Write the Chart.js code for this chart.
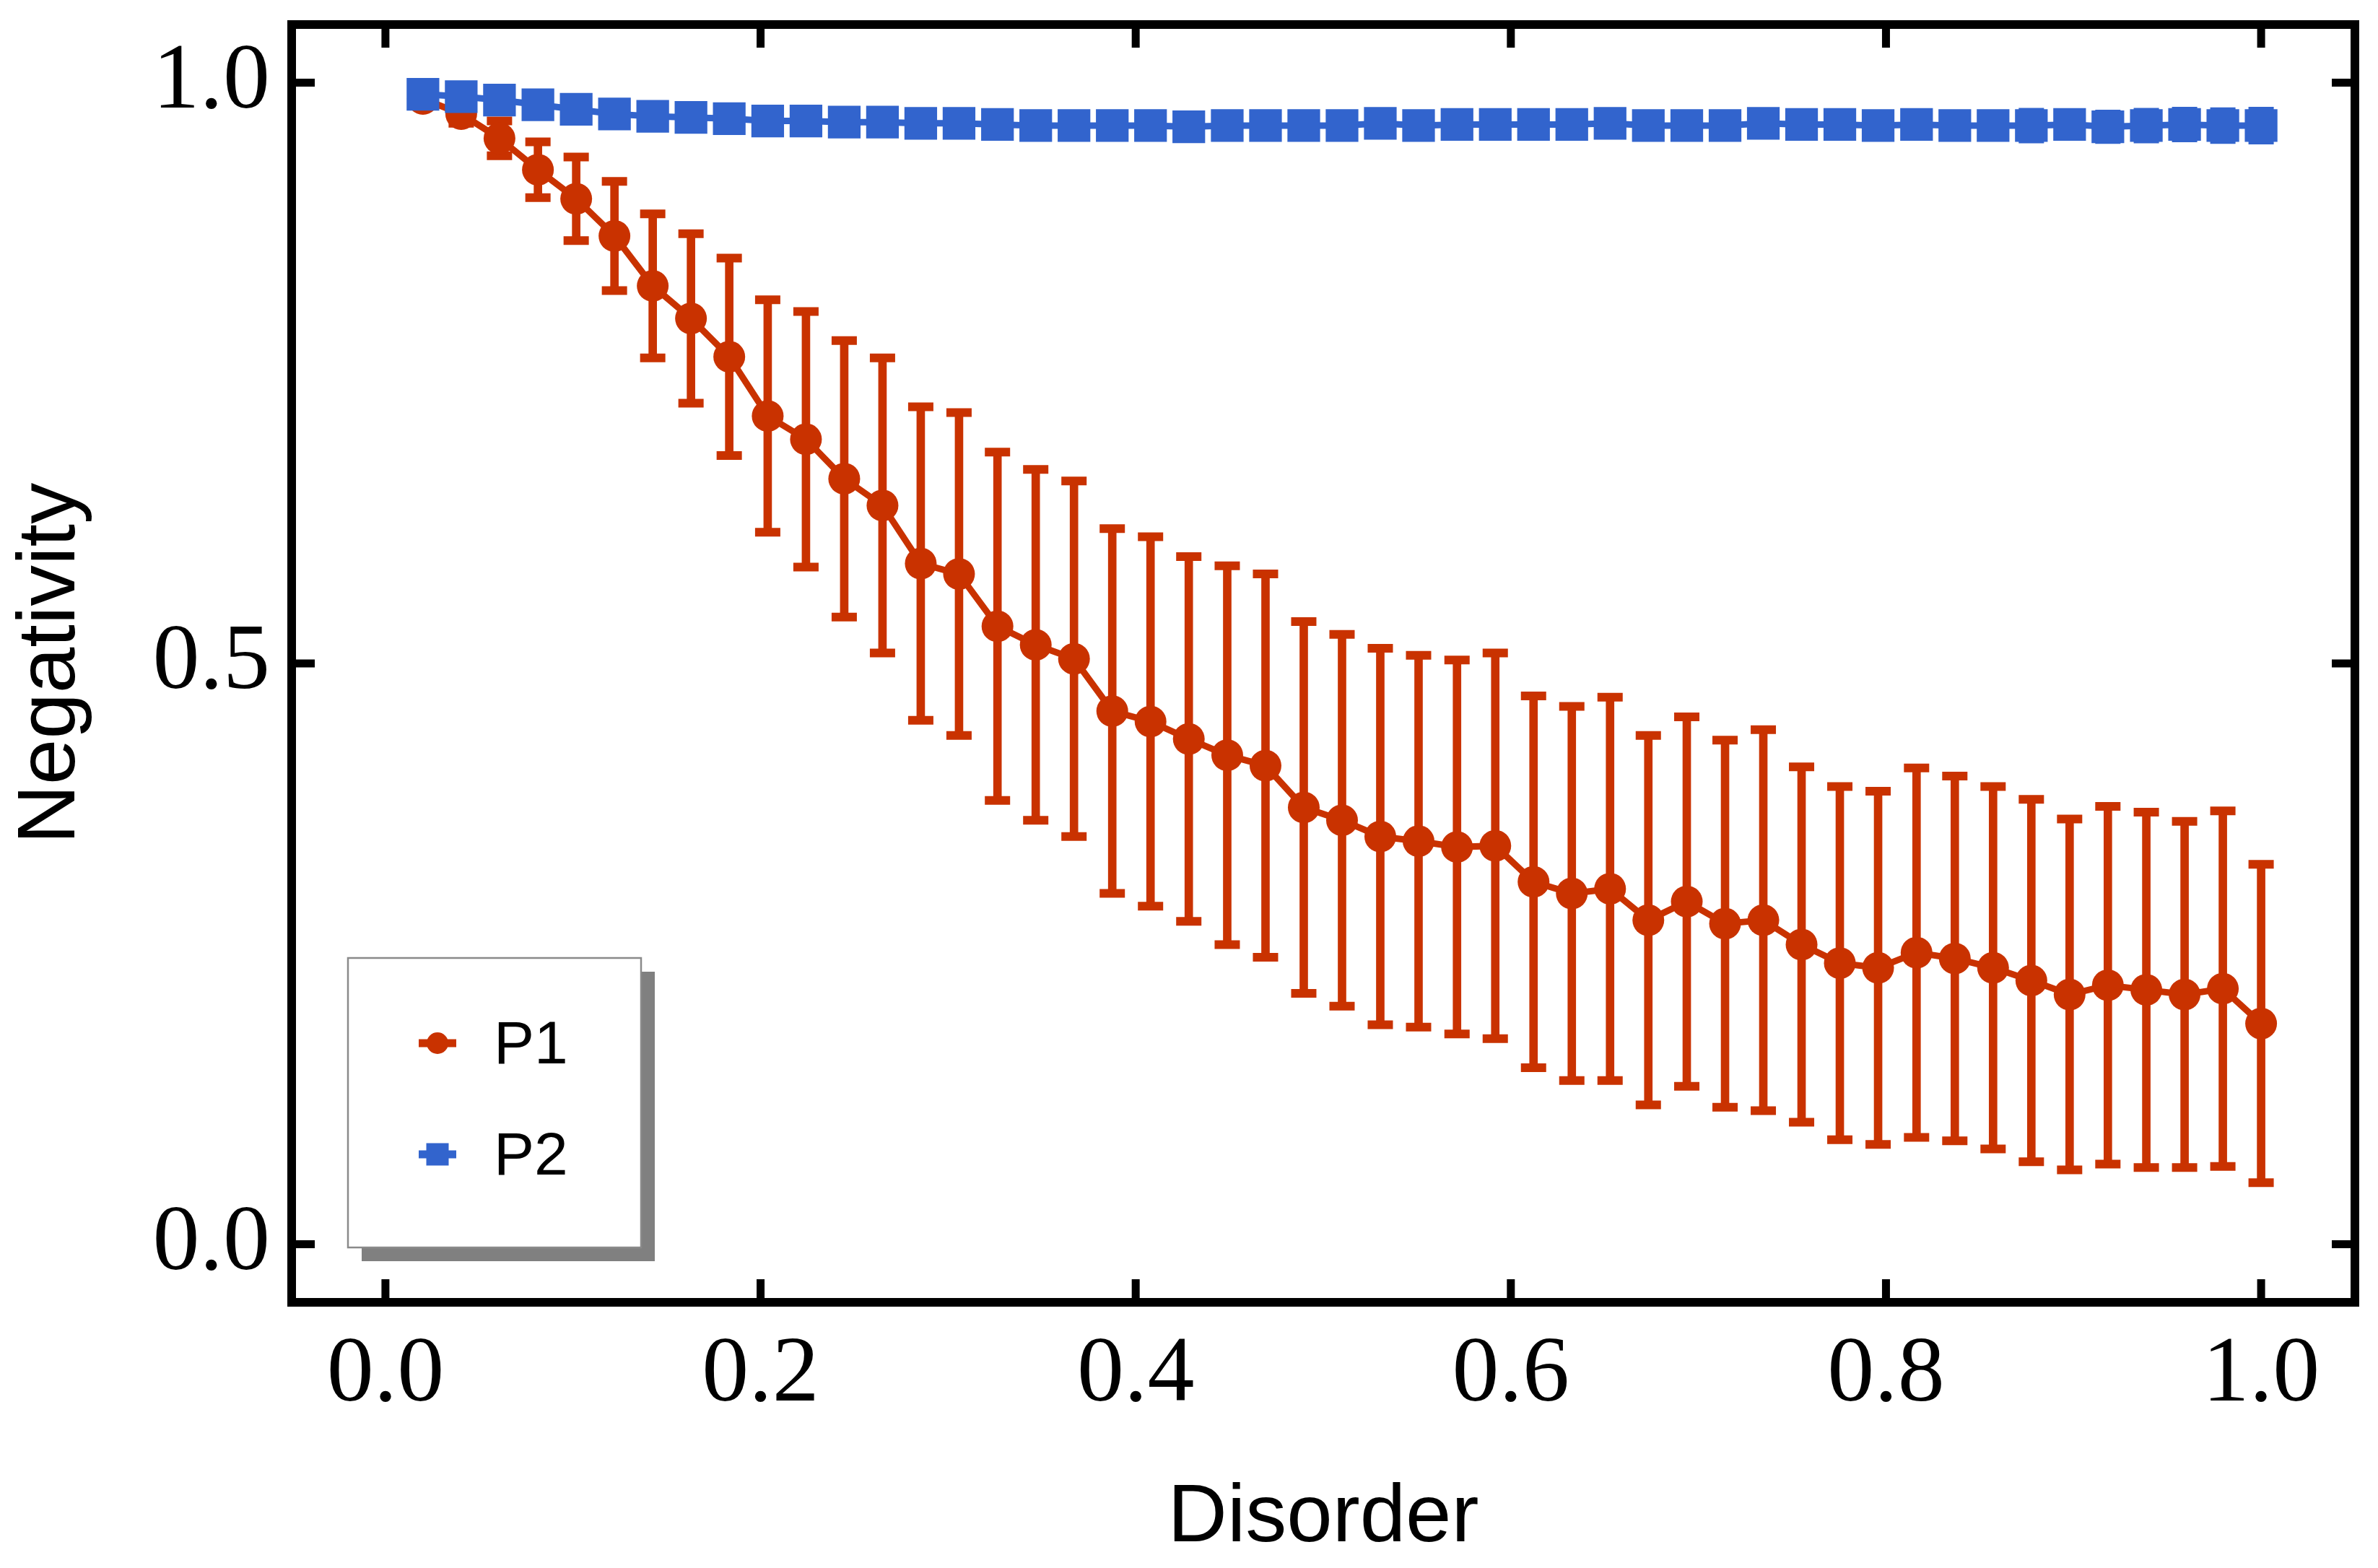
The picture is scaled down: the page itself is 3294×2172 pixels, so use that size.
<!DOCTYPE html>
<html>
<head>
<meta charset="utf-8">
<title>Negativity vs Disorder</title>
<script src="https://cdn.jsdelivr.net/npm/chart.js@4.4.1/dist/chart.umd.min.js"></script>
<style>
  html, body { margin: 0; padding: 0; background: #fff; }
  #wrap { width: 3294px; height: 2172px; }
</style>
</head>
<body>
<div id="wrap"><canvas id="negChart" width="3294" height="2172"></canvas></div>
<script>
// 49 disorder values, 0.02 .. 1.0
var disorder = [
  0.0200, 0.0404, 0.0608, 0.0813, 0.1017, 0.1221, 0.1425, 0.1629, 0.1833, 0.2038,
  0.2242, 0.2446, 0.2650, 0.2854, 0.3058, 0.3263, 0.3467, 0.3671, 0.3875, 0.4079,
  0.4283, 0.4488, 0.4692, 0.4896, 0.5100, 0.5304, 0.5508, 0.5713, 0.5917, 0.6121,
  0.6325, 0.6529, 0.6733, 0.6938, 0.7142, 0.7346, 0.7550, 0.7754, 0.7958, 0.8163,
  0.8367, 0.8571, 0.8775, 0.8979, 0.9183, 0.9388, 0.9592, 0.9796, 1.0000
];

var p1 = [
  0.986, 0.973, 0.952, 0.925, 0.900, 0.868, 0.825, 0.797, 0.764, 0.713,
  0.693, 0.659, 0.636, 0.586, 0.577, 0.532, 0.516, 0.504, 0.459, 0.450,
  0.435, 0.421, 0.412, 0.376, 0.365, 0.351, 0.347, 0.342, 0.343, 0.312,
  0.302, 0.306, 0.279, 0.295, 0.276, 0.279, 0.258, 0.242, 0.238, 0.251,
  0.246, 0.238, 0.227, 0.215, 0.223, 0.219, 0.215, 0.220, 0.190
];

var p1Err = [
  0.004, 0.008, 0.015, 0.024, 0.036, 0.047, 0.062, 0.073, 0.085, 0.100,
  0.110, 0.119, 0.127, 0.135, 0.139, 0.150, 0.151, 0.153, 0.157, 0.159,
  0.157, 0.163, 0.165, 0.160, 0.160, 0.162, 0.160, 0.161, 0.166, 0.160,
  0.161, 0.165, 0.159, 0.159, 0.158, 0.164, 0.153, 0.152, 0.152, 0.159,
  0.157, 0.156, 0.156, 0.151, 0.154, 0.153, 0.149, 0.153, 0.137
];

var p2 = [
  0.990, 0.988, 0.985, 0.981, 0.977, 0.973, 0.971, 0.970, 0.969, 0.967,
  0.967, 0.966, 0.966, 0.965, 0.965, 0.964, 0.963, 0.963, 0.963, 0.963,
  0.962, 0.963, 0.963, 0.963, 0.963, 0.965, 0.963, 0.964, 0.964, 0.964,
  0.964, 0.965, 0.963, 0.963, 0.963, 0.965, 0.964, 0.964, 0.963, 0.964,
  0.963, 0.963, 0.963, 0.964, 0.962, 0.963, 0.964, 0.963, 0.963
];

var p2Err = [
  0.002, 0.002, 0.003, 0.003, 0.004, 0.004, 0.005, 0.005, 0.005, 0.006,
  0.006, 0.006, 0.006, 0.007, 0.007, 0.007, 0.008, 0.007, 0.007, 0.007,
  0.008, 0.007, 0.007, 0.008, 0.007, 0.007, 0.008, 0.008, 0.008, 0.008,
  0.008, 0.008, 0.008, 0.008, 0.008, 0.008, 0.008, 0.008, 0.009, 0.008,
  0.009, 0.008, 0.0115, 0.009, 0.011, 0.0115, 0.0115, 0.012, 0.0124
];

var xTicks = [0.0, 0.2, 0.4, 0.6, 0.8, 1.0];
var yTicks = [0.0, 0.5, 1.0];
var seriesNames = ['P1', 'P2'];

var red = 'rgb(201, 50, 0)';
var blue = 'rgb(50, 100, 205)';

function toPoints(ys) {
  return disorder.map(function (x, i) { return { x: x, y: ys[i] }; });
}
function toBars(ys, errs) {
  return disorder.map(function (x, i) { return { x: x, y: [ys[i] - errs[i], ys[i] + errs[i]] }; });
}
function toCaps(ys, errs, sign) {
  return disorder.map(function (x, i) { return { x: x, y: ys[i] + sign * errs[i] }; });
}

function capSet(ys, errs, sign, color, order) {
  return {
    type: 'line',
    data: toCaps(ys, errs, sign),
    showLine: false,
    pointStyle: 'line',
    pointRadius: 17.5,
    pointBorderWidth: 12,
    pointBorderColor: color,
    pointBackgroundColor: color,
    order: order
  };
}

function barSet(ys, errs, color, order) {
  return {
    type: 'bar',
    data: toBars(ys, errs),
    backgroundColor: color,
    borderWidth: 0,
    barThickness: 11,
    grouped: false,
    order: order
  };
}

// box frame with inward ticks on all four sides
var frameTicks = {
  id: 'frameTicks',
  afterDraw: function (chart) {
    var ctx = chart.ctx;
    var a = chart.chartArea;
    var sx = chart.scales.x, sy = chart.scales.y;
    var len = 32;
    ctx.save();
    ctx.strokeStyle = '#000';
    ctx.lineWidth = 12;
    ctx.strokeRect(a.left, a.top, a.right - a.left, a.bottom - a.top);
    ctx.lineWidth = 11;
    ctx.beginPath();
    sx.ticks.forEach(function (t) {
      var px = sx.getPixelForValue(t.value);
      ctx.moveTo(px, a.bottom); ctx.lineTo(px, a.bottom - len);
      ctx.moveTo(px, a.top); ctx.lineTo(px, a.top + len);
    });
    sy.ticks.forEach(function (t) {
      var py = sy.getPixelForValue(t.value);
      ctx.moveTo(a.left, py); ctx.lineTo(a.left + len, py);
      ctx.moveTo(a.right, py); ctx.lineTo(a.right - len, py);
    });
    ctx.stroke();
    ctx.restore();
  }
};

// legend box with drop shadow, lower left inside the plot
var boxLegend = {
  id: 'boxLegend',
  afterDraw: function (chart) {
    var ctx = chart.ctx;
    var a = chart.chartArea;
    var bx = a.left + 78, by = a.bottom - 477, bw = 406, bh = 401;
    ctx.save();
    ctx.fillStyle = '#808080';
    ctx.fillRect(bx + 19, by + 19, bw, bh);
    ctx.fillStyle = '#fff';
    ctx.fillRect(bx, by, bw, bh);
    ctx.strokeStyle = '#8a8a8a';
    ctx.lineWidth = 2.5;
    ctx.strokeRect(bx, by, bw, bh);

    var colors = [red, blue];
    var rows = [118, 272];
    for (var i = 0; i < seriesNames.length; i++) {
      var mx = bx + 124, my = by + rows[i];
      ctx.strokeStyle = colors[i];
      ctx.fillStyle = colors[i];
      ctx.lineWidth = 11;
      ctx.beginPath();
      ctx.moveTo(mx - 26, my);
      ctx.lineTo(mx + 26, my);
      ctx.stroke();
      if (i === 0) {
        ctx.beginPath();
        ctx.arc(mx, my, 15, 0, Math.PI * 2);
        ctx.fill();
      } else {
        ctx.fillRect(mx - 15.5, my - 15.5, 31, 31);
      }
      ctx.fillStyle = '#000';
      ctx.font = '84px "Liberation Sans", Arial, sans-serif';
      ctx.textAlign = 'left';
      ctx.textBaseline = 'alphabetic';
      ctx.fillText(seriesNames[i], bx + 202, my + 28);
    }
    ctx.restore();
  }
};

var ctx = document.getElementById('negChart');
var negChart = new Chart(ctx, {
  type: 'line',
  data: {
    datasets: [
      {
        label: seriesNames[1],
        data: toPoints(p2),
        borderColor: blue,
        borderWidth: 9,
        pointStyle: 'rect',
        pointRadius: 32,
        pointBackgroundColor: blue,
        pointBorderWidth: 0,
        order: 0
      },
      capSet(p2, p2Err, 1, blue, 0.5),
      capSet(p2, p2Err, -1, blue, 0.5),
      barSet(p2, p2Err, blue, 0.6),
      {
        label: seriesNames[0],
        data: toPoints(p1),
        borderColor: red,
        borderWidth: 9,
        pointStyle: 'circle',
        pointRadius: 22,
        pointBackgroundColor: red,
        pointBorderWidth: 0,
        order: 1
      },
      capSet(p1, p1Err, 1, red, 2),
      capSet(p1, p1Err, -1, red, 2),
      barSet(p1, p1Err, red, 3)
    ]
  },
  options: {
    responsive: false,
    devicePixelRatio: 1,
    animation: false,
    events: [],
    layout: { padding: { left: 0, right: 26, top: 34, bottom: 0 } },
    plugins: {
      legend: { display: false },
      tooltip: { enabled: false }
    },
    scales: {
      x: {
        type: 'linear',
        min: -0.05,
        max: 1.05,
        offset: false,
        grid: { display: false, drawTicks: false },
        border: { display: false },
        afterBuildTicks: function (s) {
          s.ticks = xTicks.map(function (v) { return { value: v }; });
        },
        afterFit: function (s) {
          s.height = 368;
          s.paddingLeft = 0;
          s.paddingRight = 0;
        },
        ticks: {
          autoSkip: false,
          maxRotation: 0,
          padding: 24,
          color: '#000',
          font: { family: '"Liberation Serif", "Times New Roman", serif', size: 130 },
          callback: function (v) { return Number(v).toFixed(1); }
        },
        title: {
          display: true,
          text: 'Disorder',
          color: '#000',
          padding: 0,
          font: { family: '"Liberation Sans", Arial, sans-serif', size: 114 }
        }
      },
      y: {
        type: 'linear',
        min: -0.05,
        max: 1.05,
        grid: { display: false, drawTicks: false },
        border: { display: false },
        afterBuildTicks: function (s) {
          s.ticks = yTicks.map(function (v) { return { value: v }; });
        },
        afterFit: function (s) {
          s.width = 404;
          s.paddingTop = 0;
          s.paddingBottom = 0;
        },
        ticks: {
          padding: 30,
          color: '#000',
          font: { family: '"Liberation Serif", "Times New Roman", serif', size: 130 },
          callback: function (v) { return Number(v).toFixed(1); }
        },
        title: {
          display: true,
          text: 'Negativity',
          color: '#000',
          padding: { top: 3, bottom: 0 },
          font: { family: '"Liberation Sans", Arial, sans-serif', size: 114 }
        }
      }
    }
  },
  plugins: [frameTicks, boxLegend]
});
</script>
</body>
</html>
